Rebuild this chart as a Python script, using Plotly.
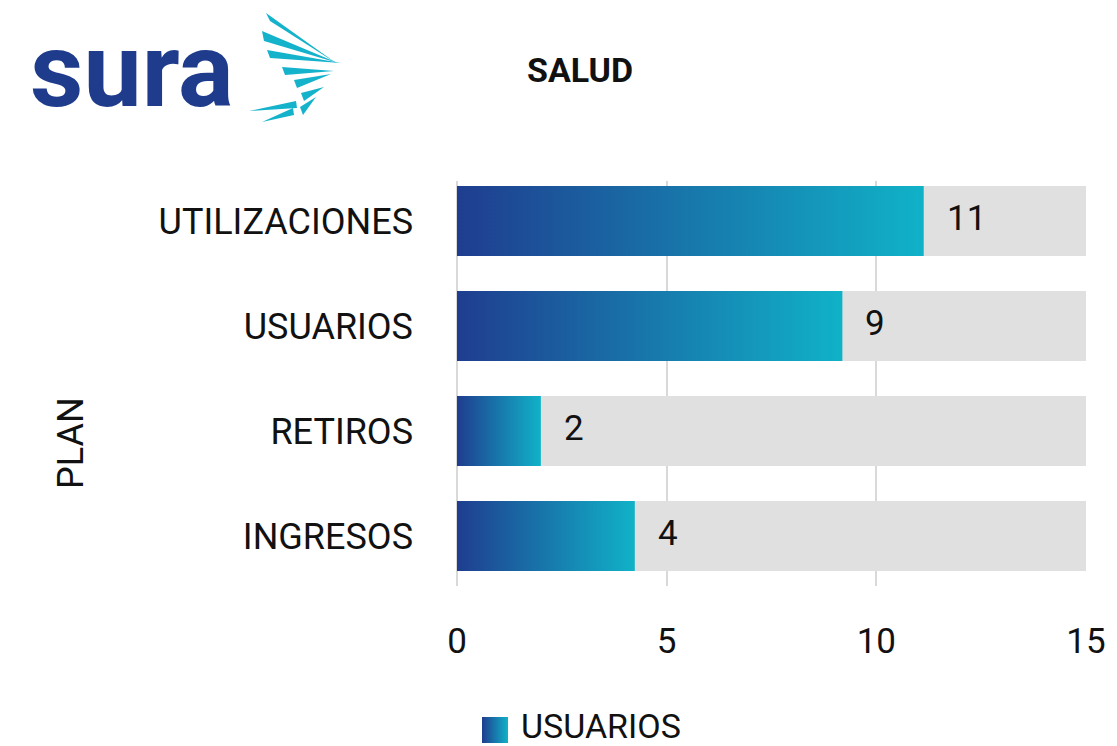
import plotly.graph_objects as go

# ---------------- data ----------------
categories = ["INGRESOS", "RETIROS", "USUARIOS", "UTILIZACIONES"]
values = [4.24, 2.0, 9.19, 11.13]          # bar lengths
labels = ["4", "2", "9", "11"]             # data labels shown on the chart
background_max = [15, 15, 15, 15]          # grey track behind each bar
x_ticks = [0, 5, 10, 15]
series_name = "USUARIOS"
title_text = "SALUD"
y_title = "PLAN"

# ---------------- style ----------------
W, H = 1117, 746
FONT = "Roboto, Inter, sans-serif"
DARK = "#1f3d8f"
CYAN = "#10b2c8"
GRAD = [[0, DARK], [1, CYAN]]
BAR_W = 0.667
HALF = BAR_W / 2

fig = go.Figure()

idx = list(range(len(categories)))

# grey tracks
fig.add_trace(go.Bar(
    x=background_max, y=idx, orientation="h", width=BAR_W,
    marker=dict(color="#e0e0e0", line=dict(width=0)),
    showlegend=False, hoverinfo="skip",
))

# gradient bars (polygons filled with a horizontal gradient)
for i, (cat, v) in enumerate(zip(categories, values)):
    fig.add_trace(go.Scatter(
        x=[0, v, v, 0, 0],
        y=[i - HALF, i - HALF, i + HALF, i + HALF, i - HALF],
        mode="lines", fill="toself",
        fillgradient=dict(type="horizontal", colorscale=GRAD),
        line=dict(width=0, color=CYAN),
        name=series_name, showlegend=False,
        hovertemplate=f"{cat}: {labels[i]}<extra></extra>",
    ))

# data labels
for i, (v, lab) in enumerate(zip(values, labels)):
    fig.add_annotation(
        x=v, y=i, xref="x", yref="y", text=lab, showarrow=False,
        xanchor="left", yanchor="middle", xshift=21, yshift=3,
        font=dict(family=FONT, size=35, color="#111111"),
    )

# ---------------- overlay pixel-space axes for logo / titles / legend ----------------
fig.add_trace(go.Scatter(x=[0, W], y=[0, H], xaxis="x2", yaxis="y2",
                         mode="markers", marker=dict(opacity=0),
                         showlegend=False, hoverinfo="skip"))

# legend swatch (gradient square) + text
fig.add_trace(go.Scatter(
    x=[474, 500, 500, 474, 474], y=[709, 709, 735, 735, 709],
    xaxis="x2", yaxis="y2", mode="lines", fill="toself",
    fillgradient=dict(type="horizontal", colorscale=GRAD),
    line=dict(width=0, color=CYAN), showlegend=False, hoverinfo="skip",
))
fig.add_annotation(x=511, y=718, xref="x2", yref="y2", text=series_name,
                   showarrow=False, xanchor="left", yanchor="middle",
                   font=dict(family=FONT, size=34, color="#111111"))

# logo text
fig.add_annotation(x=124, y=62, xref="x2", yref="y2", text="sura",
                   showarrow=False, xanchor="center", yanchor="middle",
                   font=dict(family="Roboto, sans-serif", size=104, color="#1f3c8c",
                             weight="bold"))
# logo wing strokes
wing = "#15b2cc"
strokes = [
    "M 258 5 L 262 13 L 328 55 Z",
    "M 254 23 L 256 33 L 330 55 Z",
    "M 259 42 L 262 50 L 333 55 Z",
    "M 274 59 L 277 67 L 326 63 Z",
    "M 286 72 L 289 80 L 323 66 Z",
    "M 293 85 L 296 93 L 316 79 Z",
    "M 292 99 L 295 107 L 308 89 Z",
    "M 241 103 L 288 93 L 289 100 Z",
    "M 254 114 L 285 100 L 286 107 Z",
]
for p in strokes:
    fig.add_shape(type="path", path=p, xref="x2", yref="y2",
                  fillcolor=wing, line=dict(width=0), layer="above")

# title
fig.add_annotation(x=572, y=62, xref="x2", yref="y2", text=f"<b>{title_text}</b>",
                   showarrow=False, xanchor="center", yanchor="middle",
                   font=dict(family=FONT, size=34, color="#111111"))
# y-axis title
fig.add_annotation(x=63, y=435, xref="x2", yref="y2", text=y_title,
                   showarrow=False, textangle=-90, xanchor="center", yanchor="middle",
                   font=dict(family=FONT, size=36, color="#111111"))

fig.update_layout(
    width=W, height=H,
    margin=dict(l=0, r=0, t=0, b=0),
    paper_bgcolor="white", plot_bgcolor="rgba(0,0,0,0)",
    font=dict(family=FONT, color="#111111"),
    barmode="overlay",
    showlegend=False,
    xaxis=dict(domain=[449 / W, 1078 / W], range=[0, 15], tickvals=x_ticks,
               showgrid=True, gridcolor="#d9d9d9", gridwidth=1.5,
               zeroline=True, zerolinecolor="#d9d9d9", zerolinewidth=1.5,
               showline=False, ticks="", ticklabelstandoff=31,
               tickfont=dict(family=FONT, size=35, color="#111111"),
               automargin=False, fixedrange=True),
    yaxis=dict(domain=[1 - 578 / H, 1 - 173 / H], range=[-0.476, 3.381],
               tickvals=idx, ticktext=categories,
               showgrid=False, zeroline=False, showline=False, ticks="",
               ticklabelstandoff=43,
               tickfont=dict(family=FONT, size=36, color="#111111"),
               automargin=False, fixedrange=True),
    xaxis2=dict(domain=[0, 1], range=[0, W], anchor="y2", visible=False,
                fixedrange=True),
    yaxis2=dict(domain=[0, 1], range=[H, 0], anchor="x2", visible=False,
                fixedrange=True),
)

fig.write_html("out.html")
